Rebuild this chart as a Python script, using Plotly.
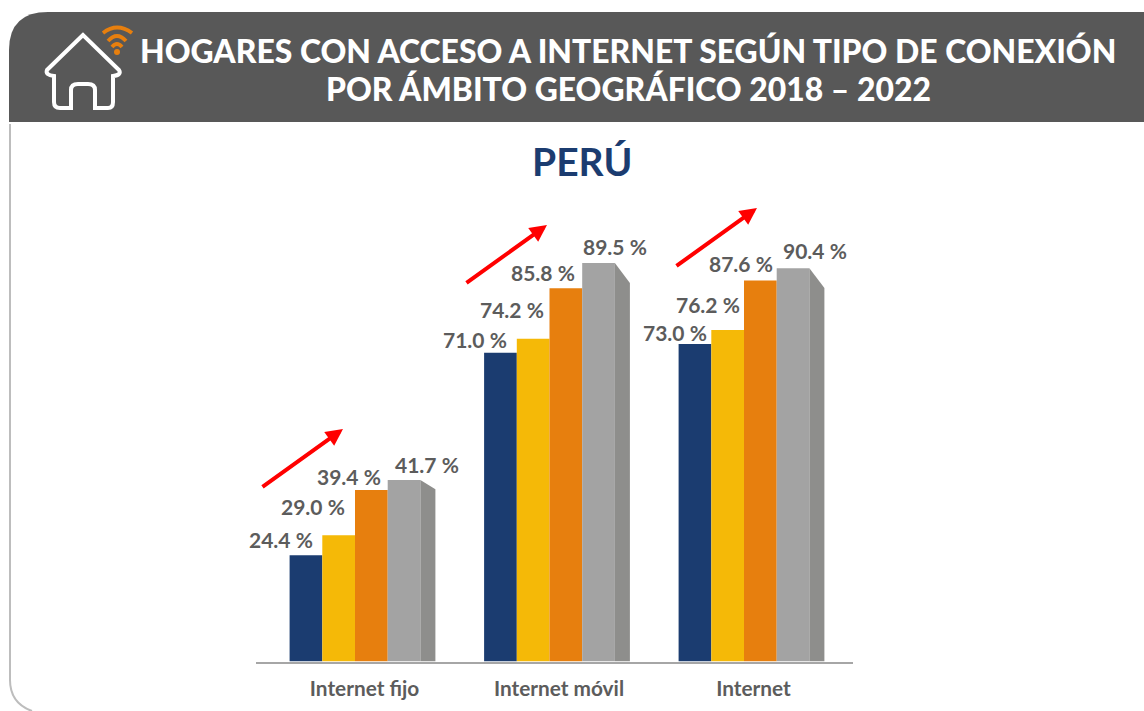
import plotly.graph_objects as go

W, H = 1144, 711
categories = ["Internet fijo", "Internet móvil", "Internet"]
years = ["2018", "2019", "2020", "2021"]
v_2018 = [24.4, 71.0, 73.0]
v_2019 = [29.0, 74.2, 76.2]
v_2020 = [39.4, 85.8, 87.6]
v_2021 = [41.7, 89.5, 90.4]
# Height at which the grey bars are actually drawn in the reference (the móvil bar is over-tall)
v_2021_drawn = [41.7, 91.6, 90.4]
title_lines = ["HOGARES CON ACCESO A INTERNET SEGÚN TIPO DE CONEXIÓN",
               "POR ÁMBITO GEOGRÁFICO 2018 – 2022"]
subtitle = "PERÚ"

colors = ["#1B3C70", "#F5B907", "#E77F0E", "#A3A3A3"]
SIDE = "#8E8E8C"
TXT = "#5C5C5C"
FONT = "Lato"

# layout, in pixels
PL, PR, BASE, PT = 256, 853, 661.5, 180
UNIT = 194.5
BAR_W = 32.7 / UNIT
SIDE_W = 15 / UNIT
TOTAL = 4 * BAR_W + SIDE_W
XC0 = 362.5
x_range = [(PL - XC0) / UNIT, (PR - XC0) / UNIT]
y_range = [0, (BASE - PT) / 4.35]
xs = list(range(len(categories)))

fig = go.Figure()
series = [v_2018, v_2019, v_2020, v_2021_drawn]
for k, (name, vals, col) in enumerate(zip(years, series, colors)):
    fig.add_trace(go.Bar(
        x=xs, y=vals, name=name, width=BAR_W, offset=k * BAR_W - TOTAL / 2,
        marker=dict(color=col, line=dict(width=0)), showlegend=False, hoverinfo="skip"))

# side face of the grey bars
for i, v in zip(xs, v_2021_drawn):
    x0 = i - TOTAL / 2 + 4 * BAR_W
    x1 = x0 + SIDE_W
    fig.add_trace(go.Scatter(
        x=[x0, x1, x1, x0, x0], y=[0, 0, v * 0.95, v, 0], mode="lines", fill="toself",
        fillcolor=SIDE, line=dict(width=0), showlegend=False, hoverinfo="skip"))

# value label offsets (px), by series then group
label_dx = [[-25, -25, -19.5], [-26, -21, -20], [-22, -23, -19], [23, 16.5, 22]]
label_dy = [[16, 13, 11], [29, 29, 26], [14, 16, 17], [16, 17, 18]]
annos = []
for k, (vals, draw) in enumerate(zip([v_2018, v_2019, v_2020, v_2021], series)):
    for i, (v, d) in enumerate(zip(vals, draw)):
        annos.append(dict(
            x=i - TOTAL / 2 + (k + 0.5) * BAR_W, y=d, xref="x", yref="y",
            text=f"{v:.1f} %", showarrow=False, xanchor="center", yanchor="middle",
            xshift=label_dx[k][i], yshift=label_dy[k][i],
            font=dict(family=FONT, size=21, color=TXT, weight=700)))

px = lambda x: x / W
py = lambda y: 1 - y / H

# trend arrows
for (x0, y0, x1, y1) in [(261, 488, 343, 429), (465, 284, 547, 225), (675, 267, 757, 208)]:
    annos.append(dict(
        x=px(x1), y=py(y1), ax=x0 - x1, ay=y0 - y1, xref="paper", yref="paper",
        text="", showarrow=True, arrowhead=2,
        arrowsize=0.85, arrowwidth=4, arrowcolor="#FF0000"))

# titles
for line, yc in zip(title_lines, [51, 89]):
    annos.append(dict(
        x=px(628), y=py(yc), xref="paper", yref="paper", text=line, showarrow=False,
        xanchor="center", yanchor="middle",
        font=dict(family=FONT, size=31.9, color="white", weight=900)))
annos.append(dict(
    x=px(582), y=py(161), xref="paper", yref="paper", text=subtitle, showarrow=False,
    xanchor="center", yanchor="middle",
    font=dict(family=FONT, size=39, color="#1B3C70", weight=700)))


def path(*cmds):
    out = []
    for c in cmds:
        if isinstance(c, str):
            out.append(c)
        else:
            out.append(f"{px(c[0]):.5f},{py(c[1]):.5f}")
    return " ".join(out)


def shape(d, fill=None, lc=None, lw=0):
    return dict(type="path", xref="paper", yref="paper", path=d,
                fillcolor=fill if fill else "rgba(0,0,0,0)",
                line=dict(color=lc if lc else "rgba(0,0,0,0)", width=lw))


shapes = [
    shape(path("M", (10, 124), "L", (10, 680), "Q", (10, 703), (32, 711)), lc="#BDBDBD", lw=2),
    shape(path("M", (9, 122), "L", (9, 50), "Q", (9, 12), (48, 12), "L", (1144, 12),
               "L", (1144, 122), "Z"), fill="#585858"),
    # house
    shape(path("M", (83, 35), "L", (47, 70), "Q", (45, 75), (54, 76), "L", (54, 102),
               "Q", (54, 108), (60, 108), "L", (71, 108), "L", (71, 90),
               "Q", (71, 84), (78, 84), "L", (88, 84), "Q", (95, 84), (95, 90),
               "L", (95, 108), "L", (108, 108), "Q", (113, 108), (113, 102),
               "L", (113, 76), "Q", (122, 75), (119, 70), "Z"), lc="white", lw=4),
    # wifi
    shape(path("M", (103, 33), "Q", (117, 22), (132, 33)), lc="#E77F0E", lw=3.8),
    shape(path("M", (108, 41), "Q", (117, 31), (126, 41)), lc="#E77F0E", lw=3.8),
    shape(path("M", (112, 47), "Q", (117, 41), (122, 47)), lc="#E77F0E", lw=3.8),
    dict(type="circle", xref="paper", yref="paper", x0=px(114), x1=px(120), y0=py(49), y1=py(55),
         fillcolor="#E77F0E", line=dict(width=0)),
]

fig.update_layout(
    width=W, height=H, autosize=False, margin=dict(l=0, r=0, t=0, b=0),
    paper_bgcolor="white", plot_bgcolor="white", showlegend=False,
    annotations=annos, shapes=shapes,
    xaxis=dict(domain=[px(PL), px(PR)], range=x_range, tickmode="array", tickvals=xs,
               ticktext=categories, showgrid=False, zeroline=False, showline=True,
               linecolor="#A6A6A6", linewidth=2, ticks="outside", ticklen=8,
               tickcolor="rgba(0,0,0,0)", ticklabelshift=2,
               tickfont=dict(family=FONT, size=20.8, color=TXT, weight=700)),
    yaxis=dict(domain=[py(BASE), py(PT)], range=y_range, visible=False, showgrid=False,
               zeroline=False),
)

fig.write_html("out.html", config=dict(displayModeBar=False),
               post_script="document.body.style.margin='0';document.body.style.overflow='hidden';")
